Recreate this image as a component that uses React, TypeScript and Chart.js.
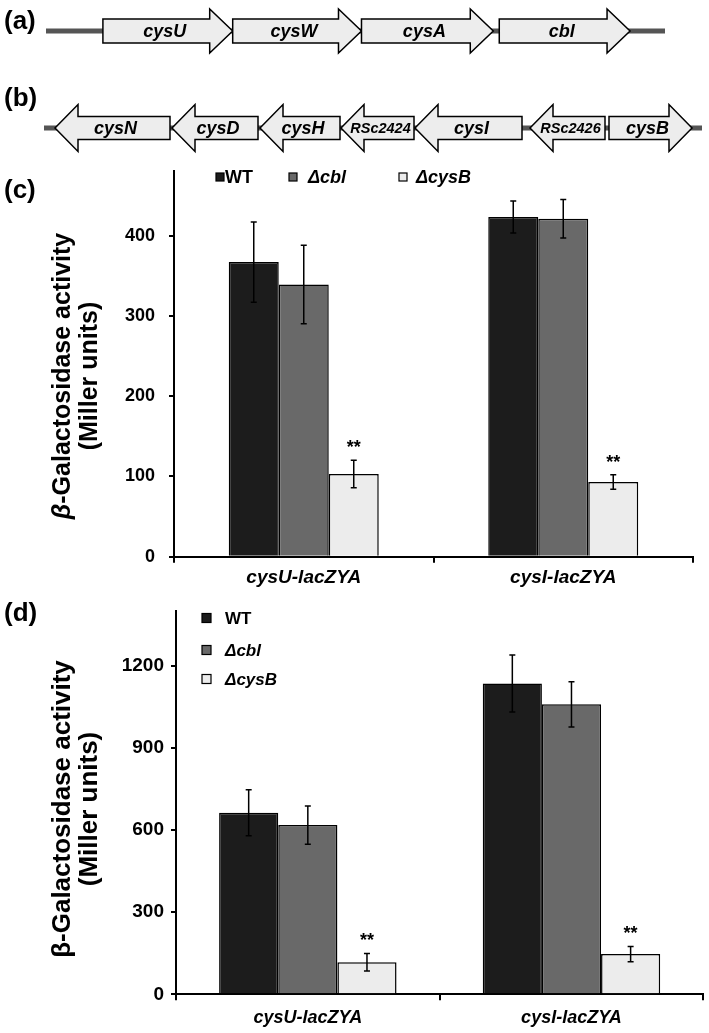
import React, { useEffect, useRef } from 'react';
import { Chart, registerables } from 'chart.js';

Chart.register(...registerables);

const FONT = '"Liberation Sans", Arial, Helvetica, sans-serif';
const NARROW = '"Liberation Sans Narrow", "Liberation Sans", Arial, sans-serif';

// ---------- (a) cysUWA-cbl locus (schematic, bp) ----------
const locusALength = 6200;
const locusAGenes = ['cysU', 'cysW', 'cysA', 'cbl'];
const locusAStarts = [570, 1870, 3160, 4540];
const locusAEnds = [1870, 3160, 4480, 5850];
const locusAStrand = [1, 1, 1, 1];

// ---------- (b) cysNDH...cysB locus (schematic, bp) ----------
const locusBLength = 6580;
const locusBGenes = ['cysN', 'cysD', 'cysH', 'RSc2424', 'cysI', 'RSc2426', 'cysB'];
const locusBStarts = [110, 1280, 2160, 2970, 3710, 4860, 5650];
const locusBEnds = [1260, 2140, 2960, 3700, 4780, 5610, 6480];
const locusBStrand = [-1, -1, -1, -1, -1, -1, 1];

// ---------- (c) and (d) beta-galactosidase activity ----------
const strains = ['WT', 'Δcbl', 'ΔcysB'];
const strainItalic = [false, true, true];
const reporters = ['cysU-lacZYA', 'cysI-lacZYA'];
const barColors = ['#1c1c1c', '#696969', '#ececec'];
const significance = ['', '', '**'];

const cWT = [367, 423];
const cWTErr = [50, 20];
const cCbl = [339, 421];
const cCblErr = [49, 24];
const cCysB = [103, 93];
const cCysBErr = [17, 9];
const cMax = 480;
const cStep = 100;

const dWT = [663, 1135];
const dWTErr = [84, 104];
const dCbl = [618, 1059];
const dCblErr = [70, 83];
const dCysB = [117, 147];
const dCysBErr = [32, 28];
const dMax = 1400;
const dStep = 300;

// ---------- plugins ----------
const geneArrowPlugin = {
  id: 'geneArrows',
  afterDraw(chart: any, _a: any, opts: any) {
    const { ctx, chartArea } = chart;
    const x = chart.scales.x;
    const yc = (chartArea.top + chartArea.bottom) / 2;
    ctx.save();
    ctx.fillStyle = '#555555';
    const x0 = x.getPixelForValue(0);
    const x1 = x.getPixelForValue(opts.length);
    ctx.fillRect(x0, yc - 2.5, x1 - x0, 5);
    const body = opts.body, head = opts.head, headLen = opts.headLen;
    opts.starts.forEach((s: number, i: number) => {
      const e = opts.ends[i];
      const dir = opts.strand[i];
      const a = x.getPixelForValue(s);
      const b = x.getPixelForValue(e);
      const tail = dir > 0 ? a : b;
      const tip = dir > 0 ? b : a;
      const base = tip - dir * headLen;
      ctx.beginPath();
      ctx.moveTo(tail, yc - body);
      ctx.lineTo(base, yc - body);
      ctx.lineTo(base, yc - head);
      ctx.lineTo(tip, yc);
      ctx.lineTo(base, yc + head);
      ctx.lineTo(base, yc + body);
      ctx.lineTo(tail, yc + body);
      ctx.closePath();
      ctx.fillStyle = '#ededed';
      ctx.fill();
      ctx.strokeStyle = '#000';
      ctx.lineWidth = 1.5;
      ctx.lineJoin = 'miter';
      ctx.stroke();
      const name = opts.genes[i];
      const small = name.length > 5;
      ctx.font = `italic bold ${small ? 14.5 : 18}px ${FONT}`;
      ctx.fillStyle = '#000';
      ctx.textAlign = 'center';
      ctx.textBaseline = 'middle';
      ctx.fillText(name, (a + b) / 2 - dir * 3, yc + 1);
    });
    ctx.restore();
  },
};

const errorBarPlugin = {
  id: 'errorBars',
  afterDatasetsDraw(chart: any, _a: any, opts: any) {
    const { ctx } = chart;
    const y = chart.scales.y;
    ctx.save();
    ctx.strokeStyle = '#000';
    ctx.fillStyle = '#000';
    ctx.lineWidth = 1.5;
    chart.data.datasets.forEach((ds: any, i: number) => {
      const meta = chart.getDatasetMeta(i);
      meta.data.forEach((bar: any, j: number) => {
        const v = ds.data[j];
        const e = opts.errors[i][j];
        const yt = y.getPixelForValue(v + e);
        const yb = y.getPixelForValue(v - e);
        const bx = bar.x;
        ctx.beginPath();
        ctx.moveTo(bx, yt);
        ctx.lineTo(bx, yb);
        ctx.moveTo(bx - 3, yt);
        ctx.lineTo(bx + 3, yt);
        ctx.moveTo(bx - 3, yb);
        ctx.lineTo(bx + 3, yb);
        ctx.stroke();
        const mark = opts.marks[i];
        if (mark) {
          ctx.font = `bold 18px ${FONT}`;
          ctx.textAlign = 'center';
          ctx.textBaseline = 'middle';
          ctx.fillText(mark, bx, yt - opts.markGap);
        }
      });
    });
    ctx.restore();
  },
};

const titleLegendPlugin = {
  id: 'titleLegend',
  afterDraw(chart: any, _a: any, opts: any) {
    const { ctx } = chart;
    ctx.save();
    ctx.fillStyle = '#000';
    // rotated y-axis title lines
    opts.titleLines.forEach((line: any) => {
      ctx.save();
      ctx.translate(line.x, line.y);
      ctx.rotate(-Math.PI / 2);
      ctx.textBaseline = 'middle';
      ctx.textAlign = 'left';
      const widths = line.runs.map((r: any) => {
        ctx.font = `${r.italic ? 'italic ' : ''}bold ${opts.titleSize}px ${FONT}`;
        return ctx.measureText(r.text).width;
      });
      let xx = -widths.reduce((p: number, c: number) => p + c, 0) / 2;
      line.runs.forEach((r: any, k: number) => {
        ctx.font = `${r.italic ? 'italic ' : ''}bold ${opts.titleSize}px ${FONT}`;
        ctx.fillText(r.text, xx, 0);
        xx += widths[k];
      });
      ctx.restore();
    });
    // legend
    chart.data.datasets.forEach((ds: any, i: number) => {
      const pos = opts.legend[i];
      const sz = opts.boxSize;
      ctx.fillStyle = ds.backgroundColor;
      ctx.fillRect(pos.x, pos.y - sz / 2, sz, sz);
      ctx.strokeStyle = '#000';
      ctx.lineWidth = 1.2;
      ctx.strokeRect(pos.x, pos.y - sz / 2, sz, sz);
      ctx.fillStyle = '#000';
      ctx.font = `${strainItalic[i] ? 'italic ' : ''}bold ${opts.legendSize}px ${FONT}`;
      ctx.textAlign = 'left';
      ctx.textBaseline = 'middle';
      ctx.fillText(ds.label, pos.tx, pos.y + 1);
    });
    ctx.restore();
  },
};

function geneChart(canvas: HTMLCanvasElement, o: any) {
  return new Chart(canvas, {
    type: 'scatter',
    data: { datasets: [] },
    options: {
      responsive: false,
      animation: false,
      layout: { padding: o.padding },
      scales: {
        x: { type: 'linear', min: 0, max: o.length, display: false },
        y: { type: 'linear', min: 0, max: 1, display: false },
      },
      plugins: {
        legend: { display: false },
        tooltip: { enabled: false },
        geneArrows: o,
      } as any,
    },
    plugins: [geneArrowPlugin],
  } as any);
}

function barChart(canvas: HTMLCanvasElement, o: any) {
  return new Chart(canvas, {
    type: 'bar',
    data: {
      labels: reporters,
      datasets: o.values.map((v: number[], i: number) => ({
        label: strains[i],
        data: v,
        backgroundColor: barColors[i],
        borderColor: '#000',
        borderWidth: 1.5,
        categoryPercentage: o.catPct,
        barPercentage: 1,
      })),
    },
    options: {
      responsive: false,
      animation: false,
      layout: { padding: o.padding },
      scales: {
        x: {
          grid: { display: true, drawOnChartArea: false, drawTicks: true, tickLength: 6, color: '#000', lineWidth: 2, offset: true },
          border: { display: true, color: '#000', width: 2 },
          ticks: { font: o.xFont, color: '#000', padding: o.xPad, autoSkip: false, maxRotation: 0 },
          afterFit: (s: any) => { s.height = o.xAxisH; },
        },
        y: {
          min: 0,
          max: o.max,
          ticks: {
            stepSize: o.step,
            font: { family: FONT, weight: 'bold', size: o.yTickSize },
            color: '#000',
            padding: o.yPad,
            callback: (v: any) => String(v),
          },
          grid: { display: true, drawOnChartArea: false, drawTicks: true, tickLength: 5, color: '#000', lineWidth: 2 },
          border: { display: true, color: '#000', width: 2 },
          afterFit: (s: any) => {
            s.width = o.yAxisW;
            s.paddingTop = 0;
            s.paddingBottom = 0;
          },
          afterBuildTicks: (s: any) => { s.ticks = s.ticks.filter((t: any) => t.value % o.step === 0); },
        },
      },
      plugins: {
        legend: { display: false },
        tooltip: { enabled: false },
        errorBars: { errors: o.errors, marks: significance, markGap: 12 },
        titleLegend: o.titleLegend,
      } as any,
    },
    plugins: [errorBarPlugin, titleLegendPlugin],
  } as any);
}

const labelStyle: React.CSSProperties = {
  position: 'absolute',
  left: 4,
  fontFamily: FONT,
  fontWeight: 'bold',
  fontSize: 26,
  lineHeight: '26px',
  color: '#000',
};

export default function App() {
  const aRef = useRef<HTMLCanvasElement>(null);
  const bRef = useRef<HTMLCanvasElement>(null);
  const cRef = useRef<HTMLCanvasElement>(null);
  const dRef = useRef<HTMLCanvasElement>(null);

  useEffect(() => {
    const charts: Chart[] = [];
    charts.push(geneChart(aRef.current!, {
      length: locusALength, genes: locusAGenes, starts: locusAStarts, ends: locusAEnds, strand: locusAStrand,
      padding: { left: 46, right: 44, top: 0, bottom: 0 }, body: 12, head: 22, headLen: 23,
    }));
    charts.push(geneChart(bRef.current!, {
      length: locusBLength, genes: locusBGenes, starts: locusBStarts, ends: locusBEnds, strand: locusBStrand,
      padding: { left: 44, right: 7, top: 0, bottom: 0 }, body: 11.5, head: 23.5, headLen: 23,
    }));
    charts.push(barChart(cRef.current!, {
      values: [cWT, cCbl, cCysB],
      errors: [cWTErr, cCblErr, cCysBErr],
      catPct: 0.578,
      max: cMax,
      step: cStep,
      padding: { left: 0, right: 16, top: 11.3, bottom: 3.3 },
      xAxisH: 40,
      yAxisW: 174,
      xFont: { family: FONT, weight: 'bold', style: 'italic', size: 19 },
      xPad: 4,
      yTickSize: 18,
      yPad: 14,
      titleLegend: {
        titleSize: 25,
        titleLines: [
          { x: 63, y: 216, runs: [{ text: 'β', italic: true }, { text: '-Galactosidase activity', italic: false }] },
          { x: 90, y: 216, runs: [{ text: '(Miller units)', italic: false }] },
        ],
        boxSize: 8,
        legendSize: 18,
        legend: [
          { x: 216, tx: 225, y: 17 },
          { x: 289, tx: 308, y: 17 },
          { x: 399, tx: 416, y: 17 },
        ],
      },
    }));
    charts.push(barChart(dRef.current!, {
      values: [dWT, dCbl, dCysB],
      errors: [dWTErr, dCblErr, dCysBErr],
      catPct: 0.673,
      max: dMax,
      step: dStep,
      padding: { left: 0, right: 5.7, top: 21, bottom: 0.7 },
      xAxisH: 38,
      yAxisW: 176,
      xFont: { family: NARROW, weight: 'bold', style: 'italic', size: 18 },
      xPad: 7,
      yTickSize: 19,
      yPad: 7,
      titleLegend: {
        titleSize: 26,
        titleLines: [
          { x: 63, y: 219, runs: [{ text: 'β-Galactosidase activity', italic: false }] },
          { x: 90, y: 219, runs: [{ text: '(Miller units)', italic: false }] },
        ],
        boxSize: 9,
        legendSize: 17,
        legend: [
          { x: 202, tx: 225, y: 28 },
          { x: 202, tx: 225, y: 60 },
          { x: 202, tx: 225, y: 89 },
        ],
      },
    }));
    return () => charts.forEach((c) => c.destroy());
  }, []);

  const cv = (top: number, height: number): React.CSSProperties => ({
    position: 'absolute', left: 0, top, width: 709, height, display: 'block',
  });

  return (
    <div style={{ position: 'absolute', left: 0, top: 0, width: 709, height: 1033, background: '#fff', overflow: 'hidden' }}>
      <canvas ref={aRef} width={709} height={62} style={cv(0, 62)} />
      <canvas ref={bRef} width={709} height={62} style={cv(97, 62)} />
      <canvas ref={cRef} width={709} height={440} style={cv(160, 440)} />
      <canvas ref={dRef} width={709} height={443} style={cv(590, 443)} />
      <div style={{ ...labelStyle, top: 7 }}>(a)</div>
      <div style={{ ...labelStyle, top: 84 }}>(b)</div>
      <div style={{ ...labelStyle, top: 176 }}>(c)</div>
      <div style={{ ...labelStyle, top: 599 }}>(d)</div>
    </div>
  );
}
